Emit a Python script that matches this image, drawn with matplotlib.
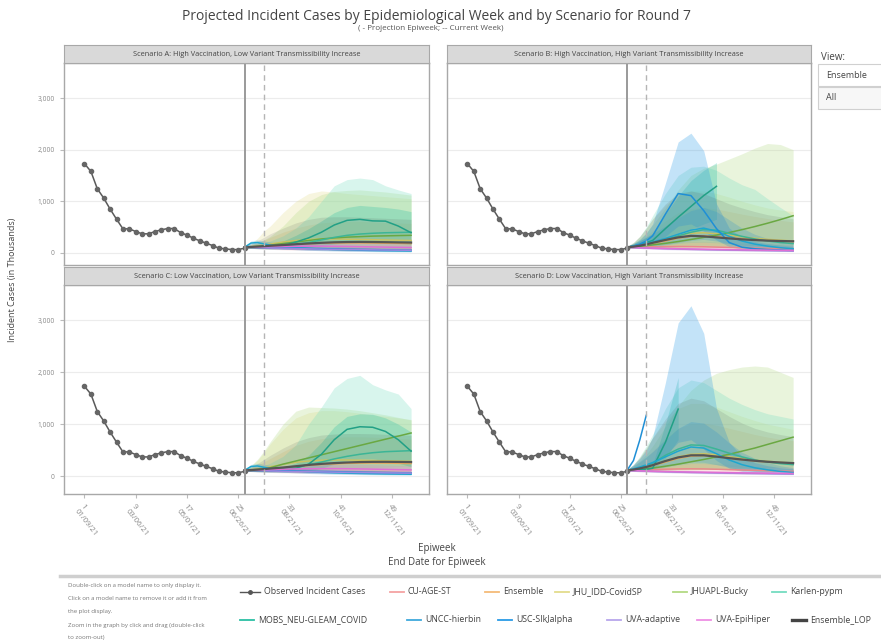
import numpy as np
import matplotlib
matplotlib.use("Agg")
import matplotlib.pyplot as plt
from matplotlib.patches import Rectangle
from matplotlib.lines import Line2D

plt.rcParams["font.family"] = ["Open Sans", "DejaVu Sans"]

W, H = 881, 644
nan = np.nan

# ─────────────────────────────────────────
# Data (incident cases, thousands)
# ─────────────────────────────────────────
OBS_WEEKS = list(range(1, 27))
OBS_CASES = [1728, 1579, 1243, 1062, 849, 654, 466, 466, 414, 369, 369, 414, 447,
             472, 472, 394, 344, 285, 233, 188, 142, 91, 78, 64, 64, 91]

PROJ_WEEKS = [26, 27, 28, 29, 30, 32, 34, 36, 38, 40, 42, 44, 46, 48, 50, 52]

TICK_WEEKS = [1, 9, 17, 25, 33, 41, 49]
TICK_DATES = ["01/09/21", "03/06/21", "05/01/21", "06/26/21", "08/21/21", "10/16/21", "12/11/21"]
Y_TICKS = [0, 1000, 2000, 3000]
Y_LABELS = ["0", "1,000", "2,000", "3,000"]

PROJ_WEEK = 26
CURRENT_WEEK = 29

MODELS = ["CU-AGE-ST", "Ensemble", "JHU_IDD-CovidSP", "JHUAPL-Bucky", "Karlen-pypm",
          "MOBS_NEU-GLEAM_COVID", "UNCC-hierbin", "USC-SIkJalpha", "UVA-adaptive",
          "UVA-EpiHiper", "Ensemble_LOP"]

COLORS = {
    "CU-AGE-ST": "#f5a3a3", "Ensemble": "#f5bb78", "JHU_IDD-CovidSP": "#e3dc8c",
    "JHUAPL-Bucky": "#b3da84", "Karlen-pypm": "#74dcc0", "MOBS_NEU-GLEAM_COVID": "#2bbfa4",
    "UNCC-hierbin": "#3fa9dc", "USC-SIkJalpha": "#2a9be6", "UVA-adaptive": "#b7a6ec",
    "UVA-EpiHiper": "#ee8fe4", "Ensemble_LOP": "#444444",
}
LINE_COLORS = {
    "CU-AGE-ST": "#e88a8a", "Ensemble": "#e8a75a", "JHU_IDD-CovidSP": "#c9c262",
    "JHUAPL-Bucky": "#6aa842", "Karlen-pypm": "#3cb596", "MOBS_NEU-GLEAM_COVID": "#22a086",
    "UNCC-hierbin": "#1fa6cf", "USC-SIkJalpha": "#1f8fd6", "UVA-adaptive": "#9d88e0",
    "UVA-EpiHiper": "#e06fd4", "Ensemble_LOP": "#555555",
}

# ── Scenario A ──
A_MED = {
    "CU-AGE-ST": [110, 108, 105, 100, 97, 90, 85, 80, 75, 70, 66, 62, 60, 57, 55, 52],
    "Ensemble": [110, 115, 120, 128, 135, 150, 165, 178, 185, 190, 192, 192, 190, 187, 183, 180],
    "JHU_IDD-CovidSP": [110, 120, 135, 150, 170, 210, 240, 260, 270, 270, 265, 260, 255, 250, 245, 240],
    "JHUAPL-Bucky": [110, 115, 125, 135, 150, 180, 210, 240, 270, 290, 305, 315, 325, 330, 335, 340],
    "Karlen-pypm": [110, 112, 115, 120, 125, 140, 165, 200, 250, 300, 340, 365, 380, 390, 395, 400],
    "MOBS_NEU-GLEAM_COVID": [110, 105, 102, 100, 102, 140, 210, 290, 400, 540, 630, 650, 620, 615, 520, 390],
    "UNCC-hierbin": [110, 190, 200, 175, 150, 120, 100, 85, 75, 65, 58, 52, 47, 43, 40, 37],
    "USC-SIkJalpha": [110, 110, 108, 105, 102, 97, 92, 87, 82, 77, 72, 67, 63, 59, 55, 52],
    "UVA-adaptive": [110, 106, 102, 98, 94, 88, 83, 78, 73, 69, 65, 62, 59, 56, 53, 50],
    "UVA-EpiHiper": [110, 112, 115, 118, 120, 125, 128, 130, 130, 128, 125, 120, 116, 112, 108, 104],
    "Ensemble_LOP": [110, 115, 122, 130, 138, 152, 168, 182, 195, 205, 210, 212, 210, 207, 203, 200],
}
A_LO = {
    "CU-AGE-ST": [95, 85, 78, 72, 68, 60, 55, 50, 46, 42, 39, 36, 34, 32, 30, 28],
    "Ensemble": [95, 90, 88, 86, 84, 80, 76, 72, 68, 64, 60, 57, 54, 52, 50, 48],
    "JHU_IDD-CovidSP": [95, 95, 95, 98, 100, 105, 108, 110, 108, 105, 100, 97, 94, 90, 88, 85],
    "JHUAPL-Bucky": [95, 90, 88, 86, 85, 85, 85, 85, 85, 84, 83, 82, 80, 78, 77, 75],
    "Karlen-pypm": [95, 92, 90, 90, 90, 92, 95, 100, 105, 110, 112, 112, 110, 106, 102, 98],
    "MOBS_NEU-GLEAM_COVID": [95, 88, 82, 78, 75, 80, 95, 115, 140, 170, 200, 215, 210, 200, 185, 160],
    "UNCC-hierbin": [95, 150, 150, 125, 100, 75, 60, 50, 42, 36, 31, 27, 24, 21, 19, 17],
    "USC-SIkJalpha": [95, 92, 88, 84, 80, 72, 65, 58, 52, 47, 42, 38, 34, 31, 28, 26],
    "UVA-adaptive": [95, 90, 85, 80, 76, 70, 64, 58, 53, 48, 44, 41, 38, 35, 33, 31],
    "UVA-EpiHiper": [95, 92, 90, 88, 85, 80, 75, 70, 66, 62, 58, 54, 50, 47, 44, 42],
    "Ensemble_LOP": [95, 88, 82, 78, 75, 70, 66, 62, 58, 55, 52, 50, 48, 46, 44, 42],
}
A_HI = {
    "CU-AGE-ST": [125, 135, 140, 142, 142, 140, 135, 130, 125, 120, 115, 110, 106, 102, 98, 95],
    "Ensemble": [125, 150, 190, 240, 300, 400, 480, 540, 580, 600, 610, 610, 600, 590, 580, 570],
    "JHU_IDD-CovidSP": [125, 180, 280, 420, 520, 780, 1000, 1150, 1200, 1180, 1150, 1130, 1110, 1090, 1070, 1050],
    "JHUAPL-Bucky": [125, 150, 190, 250, 320, 520, 780, 1000, 1130, 1190, 1210, 1220, 1200, 1180, 1150, 1120],
    "Karlen-pypm": [125, 140, 160, 190, 230, 330, 480, 700, 1000, 1300, 1420, 1450, 1420, 1300, 1220, 1150],
    "MOBS_NEU-GLEAM_COVID": [125, 125, 130, 140, 155, 230, 340, 470, 620, 780, 880, 920, 900, 880, 850, 800],
    "UNCC-hierbin": [125, 230, 250, 230, 210, 180, 160, 145, 135, 125, 118, 110, 105, 100, 95, 90],
    "USC-SIkJalpha": [125, 130, 132, 132, 130, 126, 122, 118, 114, 110, 106, 102, 98, 95, 92, 90],
    "UVA-adaptive": [125, 125, 124, 122, 120, 116, 112, 108, 104, 100, 96, 92, 88, 85, 82, 79],
    "UVA-EpiHiper": [125, 135, 145, 155, 165, 180, 195, 205, 210, 210, 205, 200, 195, 188, 180, 172],
    "Ensemble_LOP": [125, 170, 230, 300, 370, 480, 580, 650, 690, 700, 700, 690, 680, 670, 660, 650],
}

# ── Scenario B ──
B_MED = {
    "CU-AGE-ST": [110, 110, 112, 115, 118, 122, 124, 122, 118, 112, 106, 100, 94, 88, 83, 78],
    "Ensemble": [110, 120, 135, 155, 180, 230, 285, 320, 330, 315, 295, 275, 258, 242, 230, 218],
    "JHU_IDD-CovidSP": [110, 125, 145, 170, 200, 270, 340, 380, 390, 370, 340, 310, 285, 262, 245, 230],
    "JHUAPL-Bucky": [110, 118, 128, 140, 155, 185, 220, 260, 300, 345, 395, 450, 510, 575, 645, 720],
    "Karlen-pypm": [110, 125, 145, 170, 200, 260, 330, 400, 450, 440, 380, 320, 270, 230, 200, 180],
    "MOBS_NEU-GLEAM_COVID": [110, 130, 160, 200, 240, 470, 690, 900, 1110, 1290, nan, nan, nan, nan, nan, nan],
    "UNCC-hierbin": [110, 130, 155, 180, 210, 280, 360, 440, 480, 420, 320, 230, 170, 130, 100, 80],
    "USC-SIkJalpha": [110, 130, 170, 230, 330, 750, 1150, 1110, 820, 470, 200, 110, 80, 65, 55, 45],
    "UVA-adaptive": [110, 104, 98, 93, 88, 80, 74, 68, 63, 58, 54, 50, 47, 44, 41, 38],
    "UVA-EpiHiper": [110, 105, 100, 96, 92, 86, 80, 75, 70, 66, 62, 58, 55, 52, 49, 46],
    "Ensemble_LOP": [110, 120, 140, 165, 195, 250, 300, 330, 320, 300, 280, 262, 248, 238, 230, 225],
}
B_LO = {
    "CU-AGE-ST": [95, 90, 86, 82, 78, 72, 66, 60, 55, 50, 46, 42, 39, 36, 34, 32],
    "Ensemble": [95, 95, 96, 98, 100, 106, 112, 115, 114, 110, 104, 98, 92, 87, 82, 78],
    "JHU_IDD-CovidSP": [95, 98, 102, 108, 115, 128, 140, 148, 150, 145, 136, 126, 116, 108, 100, 94],
    "JHUAPL-Bucky": [95, 95, 96, 98, 100, 105, 110, 115, 120, 125, 130, 133, 136, 139, 142, 145],
    "Karlen-pypm": [95, 100, 108, 118, 130, 155, 180, 200, 205, 195, 175, 155, 138, 122, 110, 100],
    "MOBS_NEU-GLEAM_COVID": [95, 105, 120, 140, 160, 260, 360, 460, 560, 650, nan, nan, nan, nan, nan, nan],
    "UNCC-hierbin": [95, 100, 110, 120, 130, 160, 200, 240, 260, 230, 180, 135, 100, 80, 65, 55],
    "USC-SIkJalpha": [95, 100, 115, 135, 170, 320, 520, 560, 420, 250, 120, 70, 50, 40, 35, 30],
    "UVA-adaptive": [95, 88, 82, 76, 70, 62, 55, 49, 44, 40, 36, 33, 30, 28, 26, 24],
    "UVA-EpiHiper": [95, 90, 85, 80, 76, 70, 64, 58, 53, 49, 45, 42, 39, 36, 34, 32],
    "Ensemble_LOP": [95, 95, 96, 98, 100, 105, 110, 112, 110, 106, 100, 95, 90, 86, 82, 78],
}
B_HI = {
    "CU-AGE-ST": [125, 140, 155, 170, 185, 205, 220, 225, 222, 215, 205, 195, 185, 175, 165, 155],
    "Ensemble": [125, 170, 240, 330, 430, 620, 780, 860, 880, 850, 800, 750, 705, 665, 630, 600],
    "JHU_IDD-CovidSP": [125, 200, 320, 480, 650, 920, 1120, 1200, 1200, 1150, 1080, 1000, 930, 870, 830, 800],
    "JHUAPL-Bucky": [125, 180, 270, 390, 540, 870, 1220, 1500, 1640, 1720, 1820, 1920, 2030, 2120, 2100, 2000],
    "Karlen-pypm": [125, 200, 320, 500, 720, 1150, 1500, 1660, 1680, 1600, 1450, 1320, 1230, 1050, 880, 720],
    "MOBS_NEU-GLEAM_COVID": [125, 170, 230, 300, 380, 750, 1100, 1400, 1600, 1750, nan, nan, nan, nan, nan, nan],
    "UNCC-hierbin": [125, 180, 240, 300, 370, 520, 680, 820, 880, 800, 640, 480, 360, 280, 220, 180],
    "USC-SIkJalpha": [125, 180, 260, 380, 560, 1350, 2150, 2320, 1980, 950, 480, 300, 220, 180, 150, 130],
    "UVA-adaptive": [125, 122, 118, 114, 110, 104, 98, 92, 87, 82, 77, 73, 69, 65, 62, 59],
    "UVA-EpiHiper": [125, 125, 124, 122, 120, 116, 112, 108, 104, 100, 96, 92, 88, 85, 82, 79],
    "Ensemble_LOP": [125, 200, 320, 480, 660, 950, 1150, 1200, 1150, 1050, 950, 870, 800, 740, 700, 660],
}

# ── Scenario C ──
C_MED = {
    "CU-AGE-ST": [110, 108, 106, 103, 100, 95, 90, 86, 82, 78, 75, 72, 70, 68, 66, 64],
    "Ensemble": [110, 115, 122, 130, 140, 160, 185, 205, 222, 235, 245, 250, 252, 250, 246, 242],
    "JHU_IDD-CovidSP": [110, 122, 138, 156, 180, 225, 265, 290, 305, 310, 310, 305, 300, 295, 290, 285],
    "JHUAPL-Bucky": [110, 118, 130, 145, 160, 230, 290, 350, 410, 470, 530, 590, 650, 710, 770, 830],
    "Karlen-pypm": [110, 112, 116, 122, 130, 150, 180, 220, 270, 330, 380, 420, 450, 470, 480, 490],
    "MOBS_NEU-GLEAM_COVID": [110, 105, 100, 98, 98, 110, 150, 230, 420, 700, 900, 950, 940, 860, 700, 480],
    "UNCC-hierbin": [110, 185, 195, 170, 145, 115, 95, 82, 72, 64, 57, 51, 46, 42, 39, 36],
    "USC-SIkJalpha": [110, 112, 110, 108, 105, 100, 96, 92, 88, 84, 80, 76, 72, 68, 64, 60],
    "UVA-adaptive": [110, 107, 104, 101, 98, 93, 88, 84, 80, 76, 72, 69, 66, 63, 60, 57],
    "UVA-EpiHiper": [110, 113, 117, 121, 125, 132, 138, 142, 144, 144, 142, 138, 134, 129, 124, 120],
    "Ensemble_LOP": [110, 116, 124, 134, 145, 165, 190, 215, 235, 250, 262, 270, 274, 275, 273, 270],
}
C_LO = {
    "CU-AGE-ST": [95, 86, 80, 75, 70, 63, 58, 54, 50, 47, 44, 42, 40, 38, 36, 34],
    "Ensemble": [95, 90, 88, 87, 86, 85, 86, 88, 90, 92, 93, 93, 92, 90, 88, 86],
    "JHU_IDD-CovidSP": [95, 96, 98, 100, 104, 110, 116, 120, 122, 122, 120, 118, 115, 112, 110, 108],
    "JHUAPL-Bucky": [95, 96, 98, 100, 103, 110, 118, 126, 134, 142, 150, 158, 166, 174, 182, 190],
    "Karlen-pypm": [95, 93, 92, 92, 93, 97, 104, 112, 120, 128, 134, 138, 140, 140, 138, 135],
    "MOBS_NEU-GLEAM_COVID": [95, 88, 82, 78, 75, 75, 82, 100, 150, 230, 300, 330, 330, 300, 250, 180],
    "UNCC-hierbin": [95, 150, 150, 125, 100, 75, 60, 50, 42, 36, 31, 27, 24, 21, 19, 17],
    "USC-SIkJalpha": [95, 92, 88, 85, 82, 76, 70, 64, 58, 53, 48, 44, 40, 36, 33, 30],
    "UVA-adaptive": [95, 90, 86, 82, 78, 72, 66, 61, 56, 52, 48, 45, 42, 39, 37, 35],
    "UVA-EpiHiper": [95, 93, 91, 89, 87, 83, 78, 74, 70, 66, 62, 58, 55, 52, 49, 46],
    "Ensemble_LOP": [95, 90, 87, 85, 83, 80, 78, 77, 76, 75, 74, 73, 72, 71, 70, 69],
}
C_HI = {
    "CU-AGE-ST": [125, 135, 140, 145, 148, 150, 150, 148, 145, 142, 140, 138, 135, 132, 130, 128],
    "Ensemble": [125, 160, 210, 270, 340, 470, 590, 670, 720, 745, 755, 755, 750, 740, 725, 710],
    "JHU_IDD-CovidSP": [125, 190, 300, 450, 620, 900, 1120, 1220, 1260, 1260, 1240, 1210, 1180, 1150, 1120, 1090],
    "JHUAPL-Bucky": [125, 200, 320, 480, 660, 1000, 1250, 1330, 1320, 1310, 1290, 1260, 1220, 1180, 1130, 1080],
    "Karlen-pypm": [125, 140, 165, 200, 250, 380, 600, 1000, 1330, 1700, 1880, 1940, 1760, 1660, 1580, 1300],
    "MOBS_NEU-GLEAM_COVID": [125, 125, 130, 135, 140, 170, 250, 400, 650, 950, 1150, 1200, 1190, 1120, 1000, 850],
    "UNCC-hierbin": [125, 225, 245, 225, 205, 175, 155, 140, 130, 122, 115, 108, 102, 97, 92, 88],
    "USC-SIkJalpha": [125, 135, 138, 140, 140, 138, 135, 132, 128, 124, 120, 116, 112, 108, 104, 100],
    "UVA-adaptive": [125, 127, 128, 128, 128, 126, 123, 120, 117, 113, 110, 106, 102, 98, 95, 92],
    "UVA-EpiHiper": [125, 138, 150, 162, 175, 195, 212, 225, 232, 235, 232, 226, 220, 212, 204, 196],
    "Ensemble_LOP": [125, 170, 240, 320, 400, 540, 660, 740, 790, 810, 820, 820, 815, 805, 795, 785],
}

# ── Scenario D ──
D_MED = {
    "CU-AGE-ST": [110, 112, 116, 120, 125, 132, 138, 140, 138, 132, 125, 118, 110, 103, 97, 92],
    "Ensemble": [110, 125, 145, 170, 200, 270, 340, 385, 395, 375, 345, 315, 290, 268, 250, 236],
    "JHU_IDD-CovidSP": [110, 128, 150, 178, 210, 290, 370, 420, 430, 410, 375, 340, 310, 285, 265, 250],
    "JHUAPL-Bucky": [110, 118, 128, 140, 155, 190, 230, 275, 320, 370, 420, 480, 540, 610, 680, 750],
    "Karlen-pypm": [110, 130, 160, 200, 250, 400, 520, 600, 590, 520, 440, 370, 310, 270, 240, 220],
    "MOBS_NEU-GLEAM_COVID": [110, 115, 120, 130, 150, 650, 1290, nan, nan, nan, nan, nan, nan, nan, nan, nan],
    "UNCC-hierbin": [110, 140, 175, 215, 260, 370, 480, 560, 540, 430, 310, 220, 160, 120, 90, 70],
    "USC-SIkJalpha": [110, 300, 700, 1170, nan, nan, nan, nan, nan, nan, nan, nan, nan, nan, nan, nan],
    "UVA-adaptive": [110, 104, 99, 94, 89, 82, 76, 70, 65, 60, 56, 52, 49, 46, 43, 40],
    "UVA-EpiHiper": [110, 106, 102, 98, 94, 88, 83, 78, 74, 70, 66, 62, 59, 56, 53, 50],
    "Ensemble_LOP": [110, 125, 148, 175, 210, 290, 360, 400, 400, 375, 345, 318, 295, 276, 262, 250],
}
D_LO = {
    "CU-AGE-ST": [95, 90, 86, 82, 78, 72, 66, 61, 56, 52, 48, 44, 41, 38, 36, 34],
    "Ensemble": [95, 97, 100, 104, 108, 118, 128, 134, 134, 128, 120, 112, 104, 97, 91, 86],
    "JHU_IDD-CovidSP": [95, 100, 106, 114, 122, 138, 152, 160, 160, 152, 140, 128, 118, 110, 102, 96],
    "JHUAPL-Bucky": [95, 96, 98, 100, 102, 108, 115, 122, 130, 138, 145, 152, 158, 164, 170, 175],
    "Karlen-pypm": [95, 100, 108, 118, 130, 170, 210, 240, 240, 220, 190, 165, 145, 128, 115, 105],
    "MOBS_NEU-GLEAM_COVID": [95, 100, 105, 110, 120, 350, 700, nan, nan, nan, nan, nan, nan, nan, nan, nan],
    "UNCC-hierbin": [95, 105, 115, 125, 140, 180, 230, 270, 265, 220, 165, 120, 90, 70, 55, 45],
    "USC-SIkJalpha": [95, 110, 130, 160, 200, 400, 650, 700, 520, 300, 150, 90, 60, 45, 38, 32],
    "UVA-adaptive": [95, 88, 82, 76, 71, 63, 56, 50, 45, 41, 37, 34, 31, 29, 27, 25],
    "UVA-EpiHiper": [95, 90, 86, 82, 78, 72, 66, 60, 55, 50, 46, 43, 40, 37, 35, 33],
    "Ensemble_LOP": [95, 97, 100, 104, 108, 118, 128, 134, 134, 128, 120, 112, 104, 97, 91, 86],
}
D_HI = {
    "CU-AGE-ST": [125, 145, 165, 185, 205, 230, 250, 258, 255, 245, 232, 218, 205, 192, 180, 170],
    "Ensemble": [125, 180, 260, 360, 480, 720, 920, 1010, 1020, 980, 920, 860, 800, 750, 710, 680],
    "JHU_IDD-CovidSP": [125, 220, 360, 540, 730, 1050, 1300, 1400, 1400, 1330, 1240, 1150, 1070, 1000, 950, 900],
    "JHUAPL-Bucky": [125, 190, 290, 420, 580, 950, 1350, 1650, 1850, 1980, 2050, 2100, 2120, 2100, 2000, 1900],
    "Karlen-pypm": [125, 220, 380, 580, 800, 1300, 1700, 1850, 1800, 1650, 1500, 1380, 1280, 1200, 1150, 1100],
    "MOBS_NEU-GLEAM_COVID": [125, 140, 160, 190, 230, 1000, 1900, nan, nan, nan, nan, nan, nan, nan, nan, nan],
    "UNCC-hierbin": [125, 200, 280, 370, 470, 700, 920, 1050, 1020, 850, 640, 460, 340, 260, 200, 160],
    "USC-SIkJalpha": [125, 220, 340, 500, 750, 1800, 2950, 3280, 2750, 1300, 650, 380, 260, 200, 160, 140],
    "UVA-adaptive": [125, 122, 119, 116, 113, 108, 103, 98, 93, 88, 84, 80, 76, 72, 69, 66],
    "UVA-EpiHiper": [125, 126, 126, 125, 123, 119, 115, 111, 107, 103, 99, 95, 91, 88, 85, 82],
    "Ensemble_LOP": [125, 220, 360, 540, 740, 1100, 1400, 1500, 1450, 1300, 1150, 1020, 920, 850, 800, 760],
}

SCENARIOS = [
    ("Scenario A: High Vaccination, Low Variant Transmissibility Increase", A_MED, A_LO, A_HI),
    ("Scenario B: High Vaccination, High Variant Transmissibility Increase", B_MED, B_LO, B_HI),
    ("Scenario C: Low Vaccination, Low Variant Transmissibility Increase", C_MED, C_LO, C_HI),
    ("Scenario D: Low Vaccination, High Variant Transmissibility Increase", D_MED, D_LO, D_HI),
]

LEGEND_ROW1 = ["Observed Incident Cases", "CU-AGE-ST", "Ensemble", "JHU_IDD-CovidSP",
               "JHUAPL-Bucky", "Karlen-pypm"]
LEGEND_ROW2 = ["MOBS_NEU-GLEAM_COVID", "UNCC-hierbin", "USC-SIkJalpha", "UVA-adaptive",
               "UVA-EpiHiper", "Ensemble_LOP"]
HELP_LINES = ["Double-click on a model name to only display it.",
              "Click on a model name to remove it or add it from",
              "the plot display.",
              "Zoom in the graph by click and drag (double-click",
              "to zoom-out)"]


# ─────────────────────────────────────────
# Helpers
# ─────────────────────────────────────────
def fx(x):
    return x / W


def fy(y):
    return 1 - y / H


def px_axes(fig, x0, y0, x1, y1, **kw):
    return fig.add_axes([fx(x0), fy(y1), (x1 - x0) / W, (y1 - y0) / H], **kw)


def draw_panel(ax, med, lo, hi, ylim, show_x, show_y):
    weeks = np.array(PROJ_WEEKS, dtype=float)
    for m in MODELS:
        a = 0.12 if m == "Ensemble_LOP" else 0.28
        ax.fill_between(weeks, np.array(lo[m], float), np.array(hi[m], float),
                        color=COLORS[m], alpha=a, lw=0, zorder=2)
    for m in MODELS:
        lw = 1.6 if m == "Ensemble_LOP" else 1.1
        ax.plot(weeks, np.array(med[m], float), color=LINE_COLORS[m], lw=lw, zorder=3)
    ax.plot(OBS_WEEKS, OBS_CASES, color="#5a5a5a", lw=1.1, marker="o", ms=3.0,
            mfc="#666666", mec="#666666", zorder=4)

    ax.axvline(PROJ_WEEK, color="#9a9a9a", lw=1.4, zorder=5)
    ax.axvline(CURRENT_WEEK, color="#b5b5b5", lw=1.0, ls=(0, (4, 3)), zorder=5)

    ax.set_xlim(-2.2, 54.8)
    ax.set_ylim(*ylim)
    ax.set_yticks(Y_TICKS)
    ax.grid(axis="y", color="#ececec", lw=0.8, zorder=0)
    ax.set_axisbelow(True)
    for s in ax.spines.values():
        s.set_color("#a8a8a8")
        s.set_linewidth(1.0)
    ax.tick_params(axis="both", colors="#bbbbbb", length=3, width=0.8, labelcolor="#888888",
                   labelsize=4.8)
    if show_y:
        ax.set_yticklabels(Y_LABELS)
    else:
        ax.tick_params(axis="y", length=0)
        ax.set_yticklabels([])
    ax.set_xticks(TICK_WEEKS)
    if show_x:
        ax.set_xticklabels([f"{w}\n{d}" for w, d in zip(TICK_WEEKS, TICK_DATES)],
                           rotation=-52, ha="left", va="top", rotation_mode="anchor",
                           fontsize=5.6, color="#888888")
    else:
        ax.tick_params(axis="x", length=0)
        ax.set_xticklabels([])


# ─────────────────────────────────────────
# Figure
# ─────────────────────────────────────────
fig = plt.figure(figsize=(W / 100, H / 100), dpi=100)
fig.patch.set_facecolor("white")

fig.text(fx(437), fy(16), "Projected Incident Cases by Epidemiological Week and by Scenario for Round 7",
         ha="center", va="center", fontsize=10, color="#444444")
fig.text(fx(431), fy(29), "( - Projection Epiweek; -- Current Week)",
         ha="center", va="center", fontsize=5.8, color="#555555")

panels = [
    (64, 429, 63, 265, 45, (-235, 3680), False, True),
    (447, 811, 63, 265, 45, (-235, 3680), False, False),
    (64, 429, 285, 494, 267, (-345, 3680), True, True),
    (447, 811, 285, 494, 267, (-345, 3680), True, False),
]
for (title, med, lo, hi), (x0, x1, y0, y1, sy, ylim, sx, syl) in zip(SCENARIOS, panels):
    ax = px_axes(fig, x0, y0, x1, y1)
    draw_panel(ax, med, lo, hi, ylim, sx, syl)
    sax = px_axes(fig, x0, sy, x1, y0)
    sax.set_xticks([]); sax.set_yticks([])
    sax.set_facecolor("#d9d9d9")
    for s in sax.spines.values():
        s.set_color("#a8a8a8")
    sax.text(0.5, 0.5, title, ha="center", va="center", fontsize=5.3, color="#444444",
             transform=sax.transAxes)

fig.text(fx(13), fy(280), "Incident Cases (in Thousands)", rotation=90, ha="center",
         va="center", fontsize=6.5, color="#444444")
fig.text(fx(437), fy(549), "Epiweek", ha="center", va="center", fontsize=7, color="#444444")
fig.text(fx(437), fy(562), "End Date for Epiweek", ha="center", va="center", fontsize=7,
         color="#444444")

# View widget
fig.text(fx(821), fy(58), "View:", ha="left", va="center", fontsize=7, color="#444444")
fig.patches.append(Rectangle((fx(818), fy(86)), fx(70), (86 - 64) / H, transform=fig.transFigure,
                             facecolor="white", edgecolor="#d0d0d0", lw=0.8))
fig.patches.append(Rectangle((fx(818), fy(109)), fx(70), (109 - 87) / H, transform=fig.transFigure,
                             facecolor="#f7f7f7", edgecolor="#d0d0d0", lw=0.8))
fig.text(fx(826), fy(75), "Ensemble", ha="left", va="center", fontsize=6.5, color="#444444")
fig.text(fx(826), fy(98), "All", ha="left", va="center", fontsize=6.5, color="#444444")

# Legend area
fig.add_artist(Line2D([fx(60), fx(881)], [fy(576), fy(576)], color="#cfcfcf", lw=2.5))
for i, line in enumerate(HELP_LINES):
    fig.text(fx(68), fy(586 + i * 13), line, ha="left", va="center", fontsize=4.3, color="#777777")

row1_x = [240, 390, 485, 555, 673, 772]
row2_x = [240, 407, 498, 607, 697, 792]
for names, xs, yy in [(LEGEND_ROW1, row1_x, 592), (LEGEND_ROW2, row2_x, 620)]:
    for name, x in zip(names, xs):
        if name == "Observed Incident Cases":
            fig.add_artist(Line2D([fx(x), fx(x + 20)], [fy(yy), fy(yy)], color="#555555", lw=1.0))
            fig.add_artist(Line2D([fx(x + 10)], [fy(yy)], color="#555555", marker="o", ms=2.5, lw=0))
        else:
            lw = 2.4 if name == "Ensemble_LOP" else 1.3
            fig.add_artist(Line2D([fx(x), fx(x + 14)], [fy(yy), fy(yy)], color=COLORS[name], lw=lw))
        off = 24 if name == "Observed Incident Cases" else 18
        fig.text(fx(x + off), fy(yy), name, ha="left", va="center", fontsize=6.3, color="#444444")

fig.savefig("out.png", dpi=100)
